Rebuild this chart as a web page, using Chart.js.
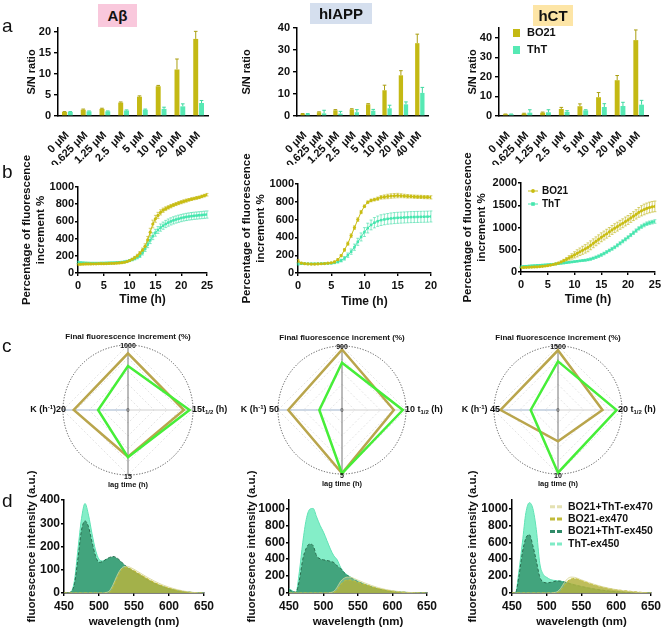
<!DOCTYPE html>
<html><head><meta charset="utf-8">
<script src="https://cdn.jsdelivr.net/npm/chart.js@4.4.1/dist/chart.umd.min.js"></script>
<style>
html,body{margin:0;padding:0;background:#fff;}
body{width:664px;height:629px;position:relative;overflow:hidden;font-family:"Liberation Sans",Arial,sans-serif;}
canvas{position:absolute;}
.lt{position:absolute;font-size:19px;line-height:19px;color:#111;}
.tb{position:absolute;font-weight:bold;font-size:15px;display:flex;align-items:center;justify-content:center;color:#111;}
</style></head><body>
<canvas id="a1"></canvas><canvas id="a2"></canvas><canvas id="a3"></canvas>
<canvas id="b1"></canvas><canvas id="b2"></canvas><canvas id="b3"></canvas>
<canvas id="c1"></canvas><canvas id="c2"></canvas><canvas id="c3"></canvas>
<canvas id="d1"></canvas><canvas id="d2"></canvas><canvas id="d3"></canvas>
<div class="lt" style="left:2px;top:16px">a</div>
<div class="lt" style="left:2px;top:162px">b</div>
<div class="lt" style="left:2px;top:336px">c</div>
<div class="lt" style="left:2px;top:491px">d</div>
<div class="tb" style="left:98px;top:4px;width:39px;height:23px;background:#f9c8dc">Aβ</div>
<div class="tb" style="left:310px;top:3px;width:62px;height:21px;background:#d5dfee">hIAPP</div>
<div class="tb" style="left:533px;top:5px;width:40px;height:21px;background:#fde5a6">hCT</div>
<script>
// ---------------- DATA ----------------
const concLabels = ['0 μM','0.625 μM','1.25 μM','2.5  μM','5 μM','10 μM','20 μM','40 μM'];
const seriesNames = ['BO21','ThT'];
// row a: S/N ratio
const abBO21 = [0.95,1.5,1.7,3.2,4.6,7.1,11.1,18.4];
const abBO21Err = [0.1,0.15,0.15,0.15,0.2,0.2,2.5,1.8];
const abThT = [0.95,1.1,1.1,1.3,1.5,1.7,2.3,3.1];
const abThTErr = [0.1,0.1,0.1,0.15,0.15,0.4,0.6,0.6];
const iaBO21 = [1.0,1.7,2.6,3.0,5.3,11.7,18.5,33.1];
const iaBO21Err = [0.1,0.2,0.3,0.3,0.3,2.3,2.1,4.1];
const iaThT = [1.0,1.2,1.1,1.7,2.4,3.5,5.3,10.5];
const iaThTErr = [0.1,1.4,1.0,1.2,0.6,1.4,1.1,2.5];
const ctBO21 = [0.9,1.2,1.7,3.6,5.0,9.6,18.3,38.8];
const ctBO21Err = [0.1,0.2,0.3,0.8,1.2,2.4,2.4,5.2];
const ctThT = [0.9,1.7,1.9,2.1,2.9,4.6,5.1,5.8];
const ctThTErr = [0.1,1.5,1.3,0.6,0.3,1.7,1.9,2.2];

// row b: kinetics
const t25 = [0,0.5,1,1.5,2,2.5,3,3.5,4,4.5,5,5.5,6,6.5,7,7.5,8,8.5,9,9.5,10,10.5,11,11.5,12,12.5,13,13.5,14,14.5,15,15.5,16,16.5,17,17.5,18,18.5,19,19.5,20,20.5,21,21.5,22,22.5,23,23.5,24,24.5,25];
const t20 = [0,0.5,1,1.5,2,2.5,3,3.5,4,4.5,5,5.5,6,6.5,7,7.5,8,8.5,9,9.5,10,10.5,11,11.5,12,12.5,13,13.5,14,14.5,15,15.5,16,16.5,17,17.5,18,18.5,19,19.5,20];
const kAbBO21 = [100,102,104,105,106,106,107,107,108,108, 109,110,111,112,113,115,117,120,125,133, 145,160,178,200,230,265,310,385,475,570, 630,670,705,730,748,763,777,790,802,813, 823,833,842,851,859,866,873,880,890,900,910];
const kAbBO21Err = [8,8,8,8,8,8,8,8,8,8, 8,8,8,8,8,8,8,8,8,10, 10,12,15,18,20,25,30,40,45,45, 40,35,30,25,22,20,20,18,18,18, 18,18,18,15,15,15,15,15,15,15,15];
const kAbThT = [125,120,118,116,115,114,114,114,114,115, 115,116,117,118,119,121,123,126,130,136, 145,155,168,183,200,235,280,330,380,428, 468,500,528,550,570,586,600,612,622,631, 639,646,652,657,661,665,668,671,674,677,680];
const kAbThTErr = [12,10,10,10,10,10,10,10,10,10, 10,10,10,10,10,10,10,10,10,12, 12,14,16,18,20,25,30,35,38,40, 40,40,42,42,42,42,42,42,42,42, 42,42,42,42,42,42,42,42,42,42,42];
const kIaBO21 = [135,112,105,102,100,100,102,104,106,110, 115,125,150,195,260,330,420,510,600,685, 750,795,815,825,835,850,855,860,865,868, 870,868,865,862,860,858,856,855,853,852,850];
const kIaBO21Err = [15,8,6,6,6,6,6,6,6,6, 6,8,10,12,15,18,20,20,20,18, 15,15,15,15,18,20,22,25,25,25, 25,22,20,20,18,18,18,18,18,18,18];
const kIaThT = [100,105,104,103,103,103,104,105,106,108, 110,115,125,140,165,200,240,290,350,405, 460,505,540,565,582,594,602,608,613,617, 620,622,624,626,628,629,630,631,632,633,635];
const kIaThTErr = [10,8,8,8,8,8,8,8,8,8, 8,10,12,15,20,25,30,35,40,45, 50,55,55,58,58,60,60,60,62,62, 62,62,62,62,62,62,62,62,62,62,62];
const kCtBO21 = [100,102,105,108,110,113,117,122,128,135, 145,155,168,182,200,225,255,285,318,350, 385,420,455,488,520,555,600,645,690,735, 780,820,860,900,945,985,1020,1060,1095,1135, 1170,1215,1255,1295,1340,1375,1405,1430,1450,1465,1475];
const kCtBO21Err = [10,10,10,10,10,10,10,10,10,10, 12,12,15,18,20,25,30,40,50,60, 70,80,85,90,95,100,100,100,100,100, 100,100,100,100,100,100,100,100,100,100, 100,100,100,105,110,115,120,120,120,120,120];
const kCtThT = [120,125,130,135,140,144,148,152,156,160, 165,170,175,182,188,195,202,210,218,226, 234,242,250,258,265,275,290,310,332,356, 383,415,450,485,520,556,600,645,690,735, 780,830,880,930,980,1020,1055,1085,1105,1120,1135];
const kCtThTErr = [15,15,15,15,15,15,15,15,15,15, 15,15,15,15,15,15,15,15,15,15, 15,15,15,18,20,22,25,25,28,28, 30,30,30,30,32,32,35,35,35,35, 35,35,38,38,38,40,40,40,40,40,40];

// row c: radar (order: final increment, t1/2, lag time, K)
const radarTop = 'Final fluorescence increment (%)';
const radarBottom = 'lag time (h)';
const c1Max = [1000,15,15,20], c1BO21 = [872,12.9,10.8,16.7], c1ThT = [677,14.2,10.9,9.2];
const c2Max = [900,10,5,50],   c2BO21 = [850,8.1,4.95,42],    c2ThT = [665,9.5,4.95,17.7];
const c3Max = [1500,20,10,45], c3BO21 = [1400,13.9,4.9,40.4], c3ThT = [1140,18.3,9.8,19.2];

// row d: spectra
const specNames = ['BO21+ThT-ex470','BO21-ex470','BO21+ThT-ex450','ThT-ex450'];
const wl = [450,455,460,465,470,475,480,485,490,495,500,505,510,515,520,525,530,535,540,545,550,560,570,580,590,600,610,620,630,640,650];
const d1Mix470 = [0,0,0,0,0,0,0,0,0,0,0,0,2,10,35,70,98,113,115,110,102,84,66,50,36,25,16,9,4,1,0];
const d1BO470  = [0,0,0,0,0,0,0,0,0,0,0,0,0,3,25,60,90,108,110,104,96,78,60,44,31,21,13,7,3,1,0];
const d1Mix450 = [0,0,5,40,150,270,310,285,220,160,132,135,145,153,157,152,140,125,112,102,93,74,56,41,29,19,12,7,3,1,0];
const d1ThT450 = [0,0,5,55,190,320,385,335,255,185,145,138,143,150,152,148,136,122,110,100,90,72,54,40,28,18,11,6,3,1,0];
const d2Mix470 = [0,0,0,0,0,0,0,0,0,0,0,0,5,20,70,140,175,188,185,170,152,118,88,62,42,27,16,9,4,1,0];
const d2BO470  = [0,0,0,0,0,0,0,0,0,0,0,0,0,5,40,100,140,155,152,140,125,100,75,52,35,22,13,7,3,1,0];
const d2Mix450 = [40,20,10,150,400,530,580,560,440,405,392,385,375,360,320,290,240,205,180,155,135,100,72,48,32,20,12,7,3,1,0];
const d2ThT450 = [50,25,5,250,600,870,990,1000,900,800,720,620,520,440,390,300,245,210,185,160,138,102,73,49,33,21,13,7,3,1,0];
const d3Mix470 = [0,0,0,0,0,0,0,0,0,0,0,0,5,15,55,120,170,188,185,172,155,125,98,75,55,40,28,18,10,4,0];
const d3BO470  = [0,0,0,0,0,0,0,0,0,0,0,0,0,3,30,85,140,165,172,162,148,118,92,70,52,38,28,20,11,5,0];
const d3Mix450 = [0,0,200,480,650,690,560,380,190,130,120,125,135,142,140,130,118,105,95,85,76,60,45,33,23,15,9,5,2,1,0];
const d3ThT450 = [0,0,260,600,950,1068,1000,750,350,220,185,160,150,145,140,132,122,110,98,88,78,60,45,34,24,16,10,6,3,1,0];

// ---------------- STYLE ----------------
const FF = '"Liberation Sans", Arial, Helvetica, sans-serif';
const C_BO = '#c4b914', C_TH = '#56e9b4';
const E_BO = '#aa9f10', E_TH = '#3fd8a0';
const L_BO = '#c9bd12', L_TH = '#45e6ae';
const R_BO = '#b9a54c', R_TH = '#46ee38';
const S_COL = [
  {fill:'rgba(240,238,180,0.28)', line:'rgba(215,212,150,0.8)'},
  {fill:'rgba(150,150,10,0.8)', line:'#b3ab00'},
  {fill:'rgba(45,140,100,0.75)', line:'#2a6e50'},
  {fill:'rgba(110,235,190,0.85)', line:'#5fe2b4'}
];
Chart.defaults.font.family = FF;
Chart.defaults.font.weight = 'bold';
Chart.defaults.color = '#111';
const plain = v => String(v);

function geom(id, L, T, W, H, a) {
  const c = document.getElementById(id);
  c.width = W; c.height = H;
  Object.assign(c.style, {left: L+'px', top: T+'px', width: W+'px', height: H+'px'});
  return {c, L, T, W, H, padding: {left: 0, top: a[1]-T, right: L+W-a[2], bottom: 0}, yW: a[0]-L, xH: T+H-a[3]};
}

// ---------------- PLUGINS ----------------
const errorBars = {
  id: 'errorBars',
  beforeDatasetsDraw(chart) {
    const ctx = chart.ctx;
    chart.data.datasets.forEach((ds, i) => {
      if (!ds.errors) return;
      const meta = chart.getDatasetMeta(i);
      const ys = chart.scales[meta.yAxisID];
      ctx.save();
      ctx.strokeStyle = ds.errColor; ctx.lineWidth = ds.errWidth || 1;
      const cap = ds.errCap || 2;
      meta.data.forEach((el, j) => {
        const raw = ds.data[j];
        const v = (raw && typeof raw === 'object') ? raw.y : raw;
        const e = ds.errors[j]; if (!e) return;
        const x = el.x;
        const yT = ys.getPixelForValue(v + e);
        const yB = ds.errBoth ? ys.getPixelForValue(v - e) : ys.getPixelForValue(v);
        ctx.beginPath();
        ctx.moveTo(x, yB); ctx.lineTo(x, yT);
        ctx.moveTo(x - cap, yT); ctx.lineTo(x + cap, yT);
        if (ds.errBoth) { ctx.moveTo(x - cap, yB); ctx.lineTo(x + cap, yB); }
        ctx.stroke();
      });
      ctx.restore();
    });
  }
};

const manLegend = {
  id: 'manLegend',
  afterDraw(chart, args, o) {
    if (!o || !o.items) return;
    const ctx = chart.ctx;
    ctx.save();
    ctx.font = `bold ${o.size}px ${FF}`;
    ctx.textBaseline = 'middle'; ctx.textAlign = 'left';
    o.items.forEach((it, k) => {
      const y = o.y + k * o.dy;
      if (o.kind === 'box') {
        ctx.fillStyle = it.color; ctx.fillRect(o.x, y - 4, 7, 8);
      } else if (o.kind === 'line') {
        ctx.strokeStyle = it.color; ctx.lineWidth = 1;
        ctx.beginPath(); ctx.moveTo(o.x, y); ctx.lineTo(o.x + 10, y); ctx.stroke();
        ctx.fillStyle = it.color;
        if (it.marker === 'rect') ctx.fillRect(o.x + 3.2, y - 1.8, 3.6, 3.6);
        else { ctx.beginPath(); ctx.arc(o.x + 5, y, 1.9, 0, Math.PI * 2); ctx.fill(); }
      } else if (o.kind === 'dash') {
        ctx.strokeStyle = it.color; ctx.lineWidth = 3; ctx.setLineDash([5, 2]);
        ctx.beginPath(); ctx.moveTo(o.x, y); ctx.lineTo(o.x + 13, y); ctx.stroke();
        ctx.setLineDash([]);
      }
      ctx.fillStyle = '#111';
      ctx.fillText(it.text, o.tx, y);
    });
    ctx.restore();
  }
};

const radarDeco = {
  id: 'radarDeco',
  beforeDatasetsDraw(chart) {
    const s = chart.scales.r, ctx = chart.ctx;
    ctx.save();
    ctx.setLineDash([1.2, 1.6]); ctx.strokeStyle = '#444'; ctx.lineWidth = 0.9;
    ctx.beginPath(); ctx.arc(s.xCenter, s.yCenter, s.drawingArea, 0, Math.PI * 2); ctx.stroke();
    ctx.restore();
  },
  afterDraw(chart, args, o) {
    const s = chart.scales.r, ctx = chart.ctx;
    const cx = s.xCenter, cy = s.yCenter, R = s.drawingArea;
    ctx.save();
    ctx.textBaseline = 'middle'; ctx.textAlign = 'center';
    ctx.font = `bold 6px ${FF}`; ctx.fillStyle = '#666'; ctx.fillText('0', cx, cy);
    ctx.fillStyle = '#111';
    ctx.font = `bold 8px ${FF}`; ctx.fillText(radarTop, cx, cy - R - 8.5);
    ctx.font = `bold 7px ${FF}`; ctx.fillText(String(o.max[0]), cx, cy - R + 1.5);
    ctx.fillText(String(o.max[2]), cx, cy + R + 2);
    ctx.font = `bold 7.5px ${FF}`; ctx.fillText(radarBottom, cx, cy + R + 9.5);
    const big = `bold 9px ${FF}`, small = `bold 6px ${FF}`;
    // right label
    ctx.textAlign = 'left';
    let x = cx + R + o.rShift;
    ctx.font = big;
    const rv = String(o.max[1]) + o.gap;
    ctx.fillText(rv, x, cy); x += ctx.measureText(rv).width;
    ctx.fillText('t', x, cy); x += ctx.measureText('t').width;
    ctx.font = small; ctx.fillText('1/2', x, cy + 2.5); x += ctx.measureText('1/2').width;
    ctx.font = big; ctx.fillText(' (h)', x, cy);
    // left label
    const lv = o.gap + String(o.max[3]);
    ctx.font = big; const w1 = ctx.measureText('K (h').width, w3 = ctx.measureText(')').width, w4 = ctx.measureText(lv).width;
    ctx.font = small; const w2 = ctx.measureText('-1').width;
    x = cx - R + o.lShift - (w1 + w2 + w3 + w4);
    ctx.font = big; ctx.fillText('K (h', x, cy); x += w1;
    ctx.font = small; ctx.fillText('-1', x, cy - 3); x += w2;
    ctx.font = big; ctx.fillText(')', x, cy); x += w3;
    ctx.fillText(lv, x, cy);
    ctx.restore();
  }
};

// ---------------- CHART BUILDERS ----------------
function axisBase(tl, col) {
  return {display: true, drawOnChartArea: false, drawTicks: true, tickLength: tl, color: col || '#000', lineWidth: 1.4};
}

function mkBar(id, L, T, W, H, a, bo, boE, th, thE, yMax, yStep, titleCx, legend) {
  const g = geom(id, L, T, W, H, a);
  new Chart(g.c, {
    type: 'bar',
    data: {labels: concLabels, datasets: [
      {label: seriesNames[0], data: bo, errors: boE, errColor: E_BO, errCap: 1.8, backgroundColor: C_BO, borderWidth: 0},
      {label: seriesNames[1], data: th, errors: thE, errColor: E_TH, errCap: 1.8, backgroundColor: C_TH, borderWidth: 0}
    ]},
    options: {
      responsive: false, animation: false, devicePixelRatio: 1,
      layout: {padding: g.padding},
      datasets: {bar: {categoryPercentage: 0.62, barPercentage: 0.85}},
      plugins: {legend: {display: false}, tooltip: {enabled: false}, manLegend: legend || {}},
      scales: {
        x: {grid: {display: false}, border: {display: true, color: '#000', width: 1.5},
            ticks: {font: {size: 11, weight: 'bold'}, color: '#111', minRotation: 45, maxRotation: 45, autoSkip: false, padding: 5},
            afterFit(s) { s.height = g.xH; }},
        y: {min: 0, max: yMax, grid: axisBase(4), border: {display: true, color: '#000', width: 1.5},
            ticks: {stepSize: yStep, includeBounds: false, callback: plain, font: {size: 11, weight: 'bold'}, color: '#111', padding: 3},
            title: {display: true, text: 'S/N ratio', font: {size: 11, weight: 'bold'}, color: '#111', padding: {top: titleCx - L - 6.6, bottom: 0}},
            afterFit(s) { s.width = g.yW; }}
      }
    },
    plugins: [errorBars, manLegend]
  });
}

function mkLine(id, L, T, W, H, a, t, bo, boE, th, thE, xMax, yMax, yStep, titleCx, xTitleCy, legend) {
  const g = geom(id, L, T, W, H, a);
  const pts = arr => t.map((x, i) => ({x: x, y: arr[i]}));
  new Chart(g.c, {
    type: 'line',
    data: {datasets: [
      {label: seriesNames[0], data: pts(bo), errors: boE, errBoth: true, errColor: 'rgba(190,180,20,0.75)', errCap: 1.5, errWidth: 0.8,
       borderColor: L_BO, backgroundColor: L_BO, borderWidth: 1, pointRadius: 1.6, pointStyle: 'circle', pointBorderWidth: 0, fill: false},
      {label: seriesNames[1], data: pts(th), errors: thE, errBoth: true, errColor: 'rgba(60,220,165,0.75)', errCap: 1.5, errWidth: 0.8,
       borderColor: L_TH, backgroundColor: L_TH, borderWidth: 1, pointRadius: 1.8, pointStyle: 'rect', pointBorderWidth: 0, fill: false}
    ]},
    options: {
      responsive: false, animation: false, devicePixelRatio: 1,
      layout: {padding: g.padding},
      plugins: {legend: {display: false}, tooltip: {enabled: false}, manLegend: legend || {}},
      scales: {
        x: {type: 'linear', min: 0, max: xMax, grid: axisBase(3), border: {display: true, color: '#000', width: 1.5},
            ticks: {stepSize: 5, callback: plain, font: {size: 11, weight: 'bold'}, color: '#111', padding: 3, maxRotation: 0},
            title: {display: true, text: 'Time (h)', font: {size: 12, weight: 'bold'}, color: '#111', padding: {top: 0, bottom: (T + H) - xTitleCy - 7.2}},
            afterFit(s) { s.height = g.xH; }},
        y: {min: 0, max: yMax, grid: axisBase(3), border: {display: true, color: '#000', width: 1.5},
            ticks: {stepSize: yStep, callback: plain, font: {size: 11, weight: 'bold'}, color: '#111', padding: 1},
            title: {display: true, text: ['Percentage of fluorescence', 'increment %'], font: {size: 11.5, weight: 'bold'}, color: '#111', padding: {top: titleCx - L - 6.9, bottom: 0}},
            afterFit(s) { s.width = g.yW; }}
      }
    },
    plugins: [errorBars, manLegend]
  });
}

function mkRadar(id, L, T, W, H, cx, cy, R, mx, bo, th, gap, rShift, lShift) {
  const c = document.getElementById(id);
  c.width = W; c.height = H;
  Object.assign(c.style, {left: L+'px', top: T+'px', width: W+'px', height: H+'px'});
  const norm = arr => arr.map((v, i) => v / mx[i]);
  const angleCols = ['#777', '#d0d0d0', '#777', '#9fb3cc'];
  new Chart(c, {
    type: 'radar',
    data: {labels: ['', '', '', ''], datasets: [
      {label: seriesNames[1], data: norm(th), borderColor: R_TH, borderWidth: 2.5, pointRadius: 0, fill: false, backgroundColor: 'transparent'},
      {label: seriesNames[0], data: norm(bo), borderColor: R_BO, borderWidth: 2.5, pointRadius: 0, fill: false, backgroundColor: 'transparent'}
    ]},
    options: {
      responsive: false, animation: false, devicePixelRatio: 1,
      layout: {padding: {left: cx - R - L, top: cy - R - T, right: L + W - (cx + R), bottom: T + H - (cy + R)}},
      plugins: {legend: {display: false}, tooltip: {enabled: false}, radarDeco: {max: mx, gap: gap, rShift: rShift, lShift: lShift}},
      scales: {r: {min: 0, max: 1, ticks: {display: false, stepSize: 0.2}, pointLabels: {display: false},
        grid: {color: 'rgba(0,0,0,0.14)', lineWidth: 0.8}, border: {dash: [2, 2]},
        angleLines: {color: ctx => angleCols[ctx.index], lineWidth: 1}}}
    },
    plugins: [radarDeco]
  });
}

function mkSpec(id, L, T, W, H, a, series, yMax, yStep, titleCx, legend) {
  const g = geom(id, L, T, W, H, a);
  const pts = arr => wl.map((x, i) => ({x: x, y: arr[i]}));
  const ds = series.map((arr, k) => ({
    label: specNames[k], data: pts(arr), fill: 'origin', backgroundColor: S_COL[k].fill, borderColor: S_COL[k].line,
    borderWidth: 1, borderDash: (k === 1 || k === 2) ? [3, 2] : [], pointRadius: 0, cubicInterpolationMode: 'monotone'
  }));
  new Chart(g.c, {
    type: 'line',
    data: {datasets: ds},
    options: {
      responsive: false, animation: false, devicePixelRatio: 1,
      layout: {padding: g.padding},
      plugins: {legend: {display: false}, tooltip: {enabled: false}, manLegend: legend || {}},
      scales: {
        x: {type: 'linear', min: 450, max: 650, grid: axisBase(3), border: {display: true, color: '#000', width: 1.5},
            ticks: {stepSize: 50, callback: plain, font: {size: 12, weight: 'bold'}, color: '#111', padding: 3, maxRotation: 0},
            title: {display: true, text: 'wavelength (nm)', font: {size: 11.5, weight: 'bold'}, color: '#111', padding: {top: 0, bottom: 0.4}},
            afterFit(s) { s.height = g.xH; }},
        y: {min: 0, max: yMax, grid: axisBase(3), border: {display: true, color: '#000', width: 1.5},
            ticks: {stepSize: yStep, includeBounds: false, callback: plain, font: {size: 12, weight: 'bold'}, color: '#111', padding: 1},
            title: {display: true, text: 'fluorescence intensity (a.u.)', font: {size: 11.5, weight: 'bold'}, color: '#111', padding: {top: titleCx - L - 6.9, bottom: 0}},
            afterFit(s) { s.width = g.yW; }}
      }
    },
    plugins: [manLegend]
  });
}

// ---------------- BUILD ----------------
mkBar('a1', 0, 0, 220, 165, [58, 28, 208, 116], abBO21, abBO21Err, abThT, abThTErr, 21, 5, 31.7);
mkBar('a2', 220, 0, 220, 165, [297, 28, 428, 116], iaBO21, iaBO21Err, iaThT, iaThTErr, 40, 10, 246.7);
mkBar('a3', 440, 0, 224, 165, [499, 28, 648, 116], ctBO21, ctBO21Err, ctThT, ctThTErr, 45, 10, 472.7,
  {kind: 'box', x: 73, y: 33, dy: 17, tx: 87, size: 11, items: [{text: seriesNames[0], color: C_BO}, {text: seriesNames[1], color: C_TH}]});

mkLine('b1', 0, 140, 220, 175, [78, 187, 207, 273], t25, kAbBO21, kAbBO21Err, kAbThT, kAbThTErr, 25, 1000, 200, 27, 300);
mkLine('b2', 220, 140, 220, 175, [298, 184, 432, 273], t20, kIaBO21, kIaBO21Err, kIaThT, kIaThTErr, 20, 1000, 200, 247.3, 301.7);
mkLine('b3', 440, 140, 224, 175, [521, 183, 656, 272], t25, kCtBO21, kCtBO21Err, kCtThT, kCtThTErr, 25, 2000, 500, 468.3, 300,
  {kind: 'line', x: 88, y: 51, dy: 13, tx: 102, size: 10, items: [{text: seriesNames[0], color: L_BO, marker: 'circle'}, {text: seriesNames[1], color: L_TH, marker: 'rect'}]});

mkRadar('c1', 0, 325, 250, 170, 128, 410, 65, c1Max, c1BO21, c1ThT, '', -1, 3);
mkRadar('c2', 220, 325, 250, 170, 342, 410, 64, c2Max, c2BO21, c2ThT, ' ', -1, 1);
mkRadar('c3', 440, 325, 224, 170, 558, 410, 64, c3Max, c3BO21, c3ThT, ' ', -4, 6);

mkSpec('d1', 0, 460, 220, 169, [64, 500, 204, 593], [d1Mix470, d1BO470, d1Mix450, d1ThT450], 400, 100, 31.7);
mkSpec('d2', 220, 460, 220, 169, [289, 500, 428, 593], [d2Mix470, d2BO470, d2Mix450, d2ThT450], 1100, 200, 251.7);
mkSpec('d3', 440, 460, 224, 169, [512, 500, 652, 593], [d3Mix470, d3BO470, d3Mix450, d3ThT450], 1100, 200, 473.3,
  {kind: 'dash', x: 110, y: 46.7, dy: 12.4, tx: 128, size: 10.5,
   items: specNames.map((n, k) => ({text: n, color: k === 0 ? 'rgba(225,222,170,0.9)' : (k === 1 ? '#c2bb3a' : (k === 2 ? '#2f8a68' : '#7febc6'))}))});
</script>
</body></html>
